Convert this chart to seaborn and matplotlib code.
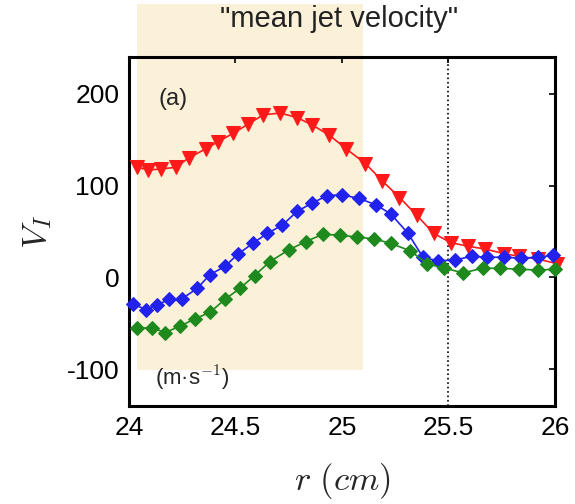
import matplotlib
matplotlib.use("Agg")
import matplotlib.pyplot as plt
import seaborn as sns
from matplotlib.patches import Rectangle

# radial positions (cm) and mean jet velocity for the three series
r_red = [24.04, 24.09, 24.15, 24.22, 24.28, 24.36, 24.42, 24.49, 24.56, 24.63,
         24.71, 24.79, 24.86, 24.94, 25.02, 25.11, 25.19, 25.27, 25.35, 25.43,
         25.51, 25.59, 25.67, 25.76, 25.83, 25.92, 26.01]
v_red = [120, 117, 118, 120, 130, 140, 148, 157, 167, 177,
         179, 174, 166, 155, 140, 124, 105, 87, 68, 48,
         38, 34, 31, 26, 23, 20, 15]

r_blue = [24.02, 24.08, 24.13, 24.19, 24.25, 24.32, 24.38, 24.45, 24.51, 24.58,
          24.65, 24.72, 24.79, 24.86, 24.93, 25.00, 25.08, 25.16, 25.23, 25.31,
          25.38, 25.45, 25.53, 25.61, 25.68, 25.76, 25.84, 25.92, 25.99]
v_blue = [-29, -35, -30, -24, -23, -12, 3, 12, 25, 37,
          48, 57, 72, 81, 89, 90, 86, 79, 69, 48,
          22, 18, 19, 23, 22, 22, 21, 22, 24]

r_green = [24.04, 24.11, 24.17, 24.24, 24.31, 24.38, 24.45, 24.52, 24.59, 24.66,
           24.75, 24.83, 24.91, 24.99, 25.07, 25.15, 25.23, 25.32, 25.40, 25.48,
           25.57, 25.66, 25.74, 25.83, 25.92, 26.00]
v_green = [-55, -55, -60, -53, -45, -38, -24, -12, 2, 17,
           30, 39, 47, 46, 44, 42, 37, 29, 15, 10,
           5, 10, 10, 9, 8, 9]

x_ticks = [24, 24.5, 25, 25.5, 26]
x_tick_labels = ["24", "24.5", "25", "25.5", "26"]
y_ticks = [-100, 0, 100, 200]
r_edge = 25.5

sns.set_style("white")
plt.rcParams["font.family"] = ["Liberation Sans", "DejaVu Sans"]
plt.rcParams["mathtext.fontset"] = "cm"
plt.rcParams["axes.unicode_minus"] = False

fig = plt.figure(figsize=(5.75, 5.04), dpi=100)
fig.patch.set_facecolor("white")

# beige highlight band, drawn in figure coordinates behind the axes
fig.patches.append(Rectangle((0.238, 0.266), 0.393, 0.726, transform=fig.transFigure,
                             facecolor="#FBF0D8", edgecolor="none", zorder=-5))

ax = fig.add_axes([0.2243, 0.1944, 0.7409, 0.6925])
ax.set_facecolor("none")

series = [
    (r_red, v_red, "#FF1A1A", "v", 10),
    (r_blue, v_blue, "#2222EE", "D", 7.5),
    (r_green, v_green, "#1E8A1E", "D", 7.5),
]
for r, v, col, mk, ms in series:
    sns.lineplot(x=r, y=v, color=col, marker=mk, markersize=ms, markeredgecolor=col,
                 linewidth=1.2, ax=ax, clip_on=False, zorder=3)

ax.axvline(r_edge, color="black", linestyle=":", linewidth=1.2, zorder=2)

ax.set_xlim(24, 26)
ax.set_ylim(-140, 240)
ax.set_xticks(x_ticks)
ax.set_xticklabels(x_tick_labels)
ax.set_yticks(y_ticks)
ax.tick_params(direction="in", length=4, width=1.2, top=True, right=True,
               labelsize=19, pad=7, colors="black")
for s in ax.spines.values():
    s.set_linewidth(2.2)
    s.set_color("black")

ax.set_xlabel(r"$r\ (cm)$", fontsize=25, labelpad=15)
ax.set_ylabel(r"$V_I$", fontsize=25, labelpad=9)

ax.text(0.07, 0.88, "(a)", transform=ax.transAxes, fontsize=17, va="center", ha="left")
ax.text(0.06, 0.08, "(m·s$^{-1}$)", transform=ax.transAxes, fontsize=16,
        va="center", ha="left")
fig.text(0.59, 0.963, '"mean jet velocity"', fontsize=21, ha="center", va="center",
         color="#222222")

fig.savefig("out.png", dpi=100)
